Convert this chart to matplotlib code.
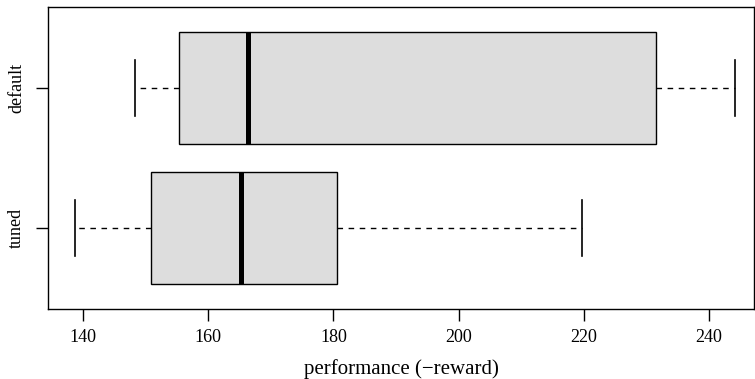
import matplotlib
matplotlib.use('Agg')
import matplotlib.pyplot as plt

# five-number summaries
groups = ['tuned', 'default']
whislo = [138.75, 148.3]
q1 = [150.9, 155.3]
med = [165.3, 166.3]
q3 = [180.6, 231.5]
whishi = [219.7, 244.2]
xticks = [140, 160, 180, 200, 220, 240]

plt.rcParams['font.family'] = ['Liberation Serif', 'DejaVu Serif']
plt.rcParams['font.size'] = 13

fig = plt.figure(figsize=(7.55, 3.79), dpi=100)
ax = fig.add_axes([48 / 755, 70 / 379, 706 / 755, 301.7 / 379])

stats = []
for i, g in enumerate(groups):
    stats.append({'label': g, 'whislo': whislo[i], 'q1': q1[i], 'med': med[i],
                  'q3': q3[i], 'whishi': whishi[i], 'fliers': []})

ax.bxp(stats, positions=[1, 2], vert=False, widths=0.8, patch_artist=True,
       showfliers=False,
       boxprops=dict(facecolor='#dddddd', edgecolor='black', linewidth=1.0),
       medianprops=dict(color='black', linewidth=3.6, solid_capstyle='butt'),
       whiskerprops=dict(color='black', linewidth=1.0, linestyle=(0, (4, 4))),
       capprops=dict(color='black', linewidth=1.2),
       capwidths=0.4)

ax.set_xlim(134.4, 247.2)
ax.set_ylim(0.42, 2.58)
ax.set_xticks(xticks)
ax.set_xticklabels([str(t) for t in xticks])
ax.set_yticks([1, 2])
ax.set_yticklabels(groups, rotation=90, va='center')
ax.tick_params(axis='both', length=8.5, width=1.0, color='black')
ax.tick_params(axis='x', pad=6)
ax.tick_params(axis='y', pad=8)
for s in ax.spines.values():
    s.set_linewidth(1.0)
ax.set_xlabel('performance (\u2212reward)', fontsize=15, labelpad=9)

fig.savefig('out.png', dpi=100)
